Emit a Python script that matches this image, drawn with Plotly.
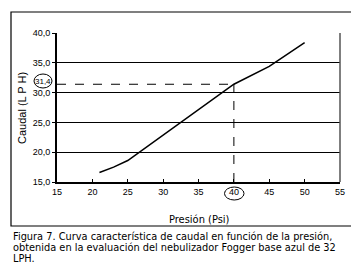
import plotly.graph_objects as go

# Data
presion = [21, 23, 25, 27, 30, 35, 40, 45, 50]
caudal = [16.6, 17.5, 18.6, 20.3, 22.8, 27.0, 31.4, 34.4, 38.4]

x_ticks = [15, 20, 25, 30, 35, 40, 45, 50, 55]
x_tick_labels = ["15", "20", "25", "30", "35", "40", "45", "50", "55"]
y_ticks = [15, 20, 25, 30, 35, 40]
y_tick_labels = ["15,0", "20,0", "25,0", "30,0", "35,0", "40,0"]

ref_x = 40
ref_y = 31.4
ref_label = "31,4"

caption_lines = [
    "Figura 7. Curva característica de caudal en función de la presión,",
    "obtenida en la evaluación del nebulizador Fogger base azul de 32",
    "LPH.",
]

W, H = 359, 265
L, R, T, B = 49, 27, 25, 91
pw, ph = W - L - R, H - T - B

def px_x(px):
    return (px - L) / pw

def px_y(py):
    return (H - B - py) / ph

tick_font = "Liberation Sans, Arial, sans-serif"
narrow = "DejaVu Sans Condensed, Liberation Sans, sans-serif"
caption_font = "DejaVu Sans, Verdana, sans-serif"

fig = go.Figure()
fig.add_trace(go.Scatter(
    x=presion, y=caudal, mode="lines",
    line=dict(color="black", width=1.5),
    showlegend=False, hoverinfo="skip",
))

fig.update_xaxes(
    range=[15, 55], tickvals=x_ticks, ticktext=x_tick_labels,
    showgrid=False, zeroline=False,
    showline=True, linecolor="black", linewidth=2,
    ticks="inside", ticklen=3, tickcolor="black", tickwidth=1,
    tickfont=dict(family=tick_font, size=9, color="black"),
)
fig.update_yaxes(
    range=[15, 40], tickvals=y_ticks, ticktext=y_tick_labels,
    showgrid=True, gridcolor="black", gridwidth=1, zeroline=False,
    showline=True, linecolor="black", linewidth=2,
    ticks="outside", ticklen=3, tickcolor="black", tickwidth=1,
    tickfont=dict(family=tick_font, size=9, color="black"),
)

shapes = [
    # right border of plot area
    dict(type="line", xref="paper", yref="paper", x0=1, x1=1, y0=0, y1=1,
         line=dict(color="#555555", width=1.5)),
    # dashed reference lines
    dict(type="line", xref="x", yref="y", x0=15, x1=ref_x, y0=ref_y, y1=ref_y,
         line=dict(color="black", width=1, dash="dash")),
    dict(type="line", xref="x", yref="y", x0=ref_x, x1=ref_x, y0=15, y1=ref_y,
         line=dict(color="black", width=1, dash="dash")),
    # ellipse around 31,4
    dict(type="circle", xref="paper", yref="paper",
         x0=px_x(26), x1=px_x(44), y0=px_y(80), y1=px_y(66),
         line=dict(color="black", width=1)),
    # ellipse around 40
    dict(type="circle", xref="paper", yref="paper",
         x0=px_x(216.5), x1=px_x(236), y0=px_y(192), y1=px_y(179),
         line=dict(color="black", width=1)),
    # outer frame
    dict(type="rect", xref="paper", yref="paper",
         x0=px_x(3), x1=px_x(346), y0=px_y(218), y1=px_y(4),
         line=dict(color="black", width=1.2)),
]

annotations = [
    dict(text=ref_label, xref="paper", yref="paper", x=px_x(35), y=px_y(73),
         xanchor="center", yanchor="middle", showarrow=False,
         font=dict(family=tick_font, size=8, color="black")),
    dict(text="Caudal (L P H)", xref="paper", yref="paper", x=px_x(14), y=px_y(100),
         xanchor="center", yanchor="middle", textangle=-90, showarrow=False,
         font=dict(family="Liberation Sans, Arial, sans-serif", size=11, color="black")),
    dict(text="Presión (Psi)", xref="paper", yref="paper", x=px_x(191), y=px_y(211),
         xanchor="center", yanchor="middle", showarrow=False,
         font=dict(family=narrow, size=11, color="black")),
]
for i, line in enumerate(caption_lines):
    annotations.append(dict(
        text=line, xref="paper", yref="paper", x=px_x(3), y=px_y(228 + 11 * i),
        xanchor="left", yanchor="middle", showarrow=False,
        font=dict(family=caption_font, size=9.8, color="black"),
    ))

fig.update_layout(
    width=W, height=H,
    margin=dict(l=L, r=R, t=T, b=B, pad=0),
    paper_bgcolor="white", plot_bgcolor="white",
    shapes=shapes, annotations=annotations,
    showlegend=False,
)

fig.write_html("out.html")
